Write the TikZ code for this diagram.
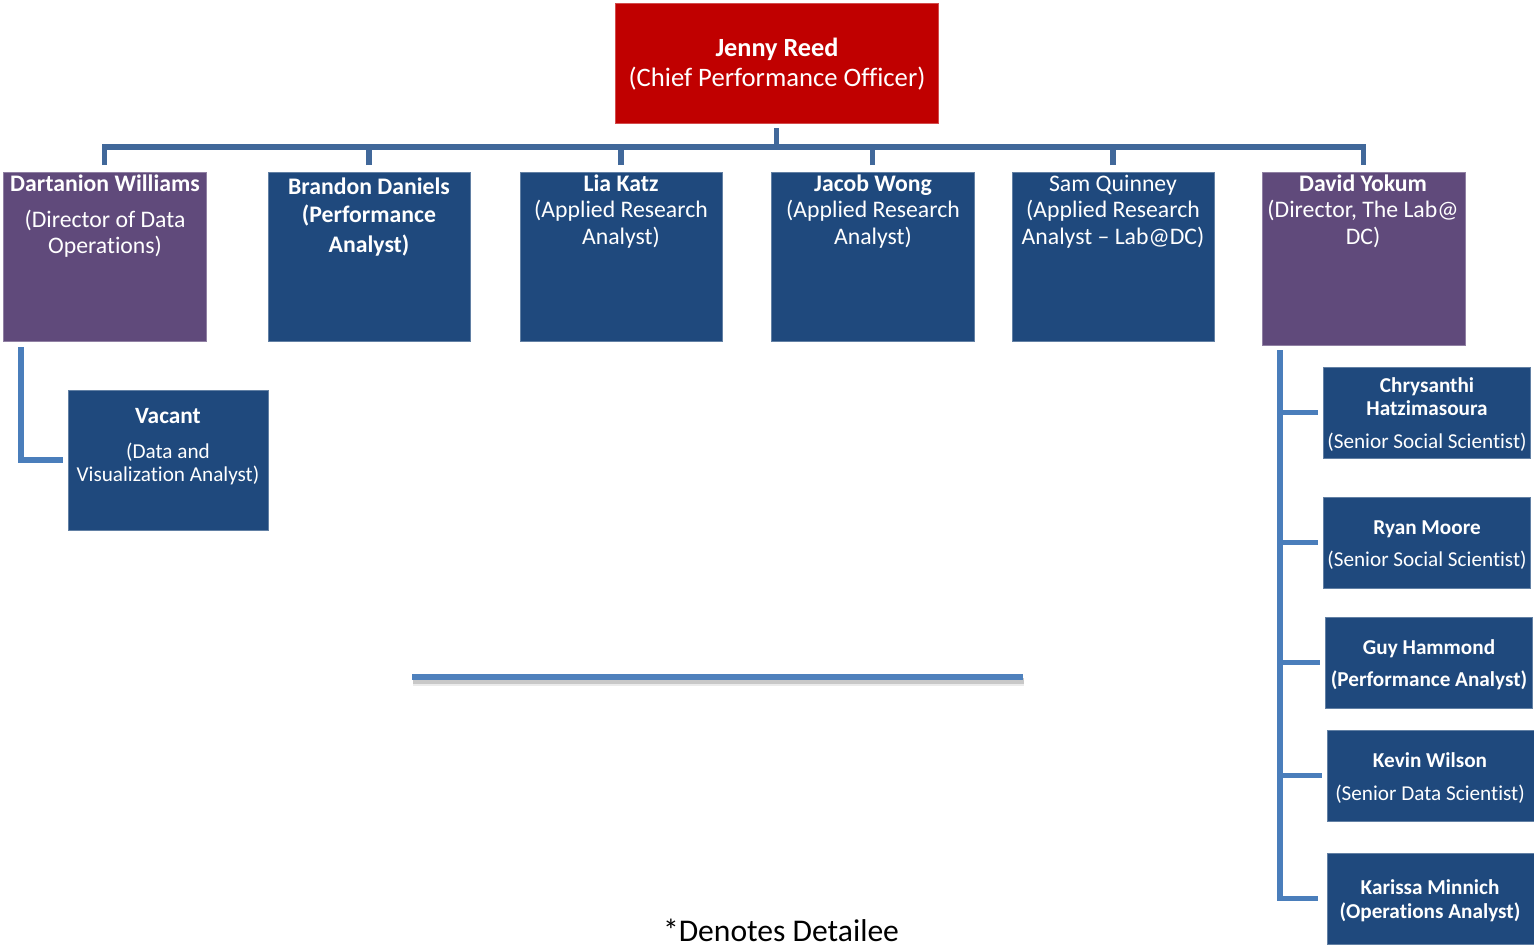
\documentclass[tikz,border=0pt]{standalone}
\usepackage{fontspec}
\setmainfont{Carlito}[Ligatures={NoCommon}]
\usetikzlibrary{fit,calc}
\definecolor{cred}{HTML}{C00000}
\definecolor{cnavy}{HTML}{1F497D}
\definecolor{cpurple}{HTML}{604A7B}
\definecolor{cbus}{HTML}{41689A}
\definecolor{csub}{HTML}{4A7EBB}
\definecolor{cline}{HTML}{4F81BD}
\tikzset{
  box/.style={inner sep=0pt, outer sep=0pt, draw=#1!70!white, line width=0.6pt, fill=#1},
  txt/.style={text=white, inner sep=0pt, anchor=mid, align=center, yshift=-2.2pt},
  busline/.style={draw=cbus, line width=3.8pt},
  subline/.style={draw=csub, line width=3.8pt},
  fA/.style={font=\fontsize{20}{24}\selectfont},
  fAb/.style={font=\fontsize{19.7}{24}\selectfont\bfseries},
  fB/.style={font=\fontsize{17.8}{22}\selectfont},
  fBb/.style={font=\fontsize{17.8}{22}\selectfont\bfseries},
  fC/.style={font=\fontsize{15.9}{19}\selectfont},
  fCb/.style={font=\fontsize{15.9}{19}\selectfont\bfseries},
}
\begin{document}
\begin{tikzpicture}[x=0.75pt,y=-0.75pt]
\useasboundingbox (0,0) rectangle (1534,946);
% boxes
\node[box=cred, fit={(615,3) (938,123)}] (jenny) {};
\node[box=cpurple, fit={(3,172) (206,341)}] (dart) {};
\node[box=cnavy, fit={(268,172) (470,341)}] (brandon) {};
\node[box=cnavy, fit={(520,172) (722,341)}] (lia) {};
\node[box=cnavy, fit={(771,172) (974,341)}] (jacob) {};
\node[box=cnavy, fit={(1012,172) (1214,341)}] (sam) {};
\node[box=cpurple, fit={(1262,172) (1465,345)}] (david) {};
\node[box=cnavy, fit={(68,390) (268,530)}] (vacant) {};
\node[box=cnavy, fit={(1323,367) (1530,458)}] (chrys) {};
\node[box=cnavy, fit={(1323,497) (1530,588)}] (ryan) {};
\node[box=cnavy, fit={(1325,617) (1532,708)}] (guy) {};
\node[box=cnavy, fit={(1327,730) (1534,821)}] (kevin) {};
\node[box=cnavy, fit={(1327,853) (1534,944)}] (karissa) {};
% texts
\node[txt,fAb] (t-jenny1) at (777,50) {Jenny Reed};
\node[txt,fA] (t-jenny2) at (777,80) {(Chief Performance Officer)};
\node[txt,fBb] (t-dart1) at (105,185) {Dartanion Williams};
\node[txt,fB] (t-dart2) at (105,221) {(Director of Data};
\node[txt,fB] (t-dart3) at (105,247) {Operations)};
\node[txt,fBb] (t-bran1) at (369,188) {Brandon Daniels};
\node[txt,fBb] (t-bran2) at (369,216) {(Performance};
\node[txt,fBb] (t-bran3) at (369,246) {Analyst)};
\node[txt,fBb] (t-lia1) at (621,185) {Lia Katz};
\node[txt,fB] (t-lia2) at (621,211) {(Applied Research};
\node[txt,fB] (t-lia3) at (621,238) {Analyst)};
\node[txt,fBb] (t-jac1) at (873,185) {Jacob Wong};
\node[txt,fB] (t-jac2) at (873,211) {(Applied Research};
\node[txt,fB] (t-jac3) at (873,238) {Analyst)};
\node[txt,fB] (t-sam1) at (1113,185) {Sam Quinney};
\node[txt,fB] (t-sam2) at (1113,211) {(Applied Research};
\node[txt,fB] (t-sam3) at (1113,238) {Analyst – Lab@DC)};
\node[txt,fBb] (t-dav1) at (1363,185) {David Yokum};
\node[txt,fB] (t-dav2) at (1363,211) {(Director, The Lab@};
\node[txt,fB] (t-dav3) at (1363,238) {DC)};
\node[txt,font=\fontsize{17.5}{21}\selectfont\bfseries] (t-vac1) at (168,417) {Vacant};
\node[txt,fC] (t-vac2) at (168,452) {(Data and};
\node[txt,fC] (t-vac3) at (168,475) {Visualization Analyst)};
\node[txt,fCb] (t-chr1) at (1427,386) {Chrysanthi};
\node[txt,fCb] (t-chr2) at (1427,409) {Hatzimasoura};
\node[txt,fC] (t-chr3) at (1427,442) {(Senior Social Scientist)};
\node[txt,fCb] (t-rya1) at (1427,528) {Ryan Moore};
\node[txt,fC] (t-rya2) at (1427,560) {(Senior Social Scientist)};
\node[txt,fCb] (t-guy1) at (1429,648) {Guy Hammond};
\node[txt,fCb] (t-guy2) at (1429,680) {(Performance Analyst)};
\node[txt,fCb] (t-kev1) at (1430,761) {Kevin Wilson};
\node[txt,fC] (t-kev2) at (1430,794) {(Senior Data Scientist)};
\node[txt,fCb] (t-kar1) at (1430,888) {Karissa Minnich};
\node[txt,fCb] (t-kar2) at (1430,912) {(Operations Analyst)};
\node[txt,text=black,font=\fontsize{23.7}{28}\selectfont] (note) at (781,935) {*Denotes Detailee};
% top-level connectors
\draw[busline] ($(jenny.south)+(0,5)$) -- ($(jenny.south)+(0,24)$);
\draw[busline] ($(dart.north)+(0,-7)$) |- ($(david.north)+(0,-25)$) -- ($(david.north)+(0,-7)$);
\foreach \n in {brandon,lia,jacob,sam}
  \draw[busline] ($(\n.north)+(0,-7)$) -- ($(\n.north)+(0,-25)$);
% Dartanion -> Vacant
\draw[subline] ($(dart.south west)+(18,6)$) |- ($(vacant.west)+(-5,0)$);
% David -> right column
\coordinate (trunk) at ($(david.south west)+(18,5)$);
\draw[subline] (trunk) |- ($(karissa.west)+(-9,0)$);
\foreach \n in {chrys,ryan,guy,kevin}
  \draw[subline] (trunk |- \n.west) -- ($(\n.west)+(-5,0)$);
% separator line with shadow
\coordinate (lineL) at (412,677);
\coordinate (lineR) at (1023,677);
\draw[line width=6pt, draw=black, opacity=0.08] ($(lineL)+(1,5)$) -- ($(lineR)+(1,5)$);
\draw[line width=4.5pt, draw=black, opacity=0.15] ($(lineL)+(1,4)$) -- ($(lineR)+(1,4)$);
\draw[line width=4.5pt, draw=cline] (lineL) -- (lineR);
\end{tikzpicture}
\end{document}
